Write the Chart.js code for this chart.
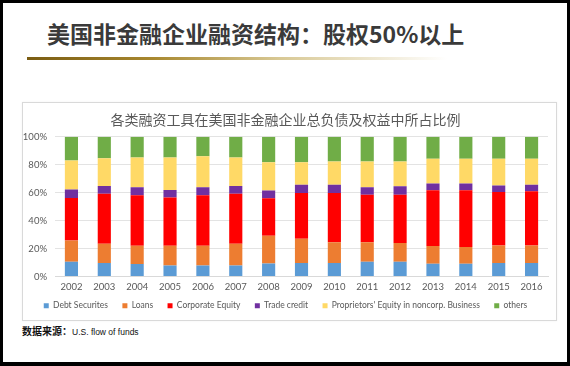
<!DOCTYPE html>
<html>
<head>
<meta charset="utf-8">
<script src="https://cdn.jsdelivr.net/npm/chart.js@4.4.0/dist/chart.umd.min.js"></script>
<style>
  html, body { margin: 0; padding: 0; background: #fff; }
  #frame { position: relative; width: 570px; height: 366px; box-sizing: border-box;
    border-left: 3px solid #000; border-top: 3px solid #000; border-right: 3px solid #000; border-bottom: 4px solid #000;
    background: #fff; overflow: hidden; }
  #title { position: absolute; left: 44px; top: 15px; font-family: "Noto Sans CJK SC", sans-serif; font-weight: bold;
    font-size: 23px; color: #3a3a3a; white-space: nowrap; letter-spacing: 0px; line-height: 30px; }
  #rule { position: absolute; left: 24px; top: 54px; width: 420px; height: 3px;
    background: linear-gradient(to right, #7a5c12 0%, #a8882f 30%, #d8c894 60%, rgba(255,255,255,0) 100%); }
  #box { position: absolute; left: 19px; top: 99px; width: 535px; height: 219px; box-sizing: border-box;
    border: 1px solid #d9d9d9; background: #fff; box-shadow: 0 0 2px rgba(0,0,0,0.06); }
  #box canvas { position: absolute; left: 0; top: 0; }
  #src { position: absolute; left: 19px; top: 318px; font-family: "Noto Sans CJK SC", sans-serif; color: #111; white-space: nowrap; line-height: 14px; }
  #src .cn { font-size: 10px; font-weight: bold; }
  #src .en { font-family: "Liberation Sans", sans-serif; font-size: 8.5px; }
</style>
</head>
<body>
<div id="frame">
  <div id="title">美国非金融企业融资结构：股权50%以上</div>
  <div id="rule"></div>
  <div id="box"><canvas id="c" width="533" height="217"></canvas></div>
  <div id="src"><span class="cn">数据来源：</span><span class="en">U.S. flow of funds</span></div>
</div>
<script>
const years = ["2002","2003","2004","2005","2006","2007","2008","2009","2010","2011","2012","2013","2014","2015","2016"];
const debtSecurities = [10.5, 9.6, 8.9, 7.9, 7.9, 7.9, 9.3, 9.6, 9.6, 10.5, 10.5, 9.1, 9.1, 9.6, 9.6];
const loans = [15.3, 13.8, 13.1, 14.1, 14.1, 15.5, 19.9, 17.4, 15.0, 14.1, 13.4, 12.7, 12.0, 12.6, 12.6];
const corporateEquity = [30.4, 35.9, 36.1, 34.5, 36.1, 35.9, 26.8, 32.8, 35.2, 34.0, 34.7, 39.9, 40.6, 38.3, 38.8];
const tradeCredit = [6.0, 5.5, 5.8, 5.5, 5.8, 5.5, 5.5, 5.8, 5.8, 5.3, 6.0, 4.8, 4.8, 4.6, 4.6];
const proprietorsEquity = [20.8, 19.9, 21.3, 23.2, 22.2, 20.4, 20.3, 16.2, 16.7, 18.4, 17.7, 17.7, 17.7, 19.1, 18.6];
const others = [17.0, 15.3, 14.8, 14.8, 13.9, 14.8, 18.2, 18.2, 17.7, 17.7, 17.7, 15.8, 15.8, 15.8, 15.8];
const yTicks = ["0%","10%","20%","30%","40%","50%","60%","70%","80%","90%","100%"];

const series = [
  ["Debt Securites", debtSecurities, "#5B9BD5"],
  ["Loans", loans, "#ED7D31"],
  ["Corporate Equity", corporateEquity, "#FF0000"],
  ["Trade credit", tradeCredit, "#7030A0"],
  ["Proprietors' Equity in noncorp. Business", proprietorsEquity, "#FFD966"],
  ["others", others, "#70AD47"]
];

const FONT = "Lato, 'Liberation Sans', sans-serif";
const defaultLabels = Chart.defaults.plugins.legend.labels.generateLabels;
new Chart(document.getElementById("c"), {
  type: "bar",
  data: {
    labels: years,
    datasets: series.map(s => ({
      label: s[0], data: s[1], backgroundColor: s[2], borderWidth: 0,
      barPercentage: 0.4, categoryPercentage: 1.0
    }))
  },
  options: {
    responsive: false, animation: false,
    layout: { padding: { left: 0, right: 8, top: 0, bottom: 0 } },
    plugins: {
      title: { display: true, text: "各类融资工具在美国非金融企业总负债及权益中所占比例",
        color: "#595959", font: { family: "'Noto Sans CJK SC', sans-serif", size: 14, weight: "normal" },
        padding: { top: 8, bottom: 9 } },
      legend: { position: "bottom",
        labels: { boxWidth: 5, boxHeight: 5, padding: 8, color: "#595959",
          font: { family: FONT, size: 8.5 },
          generateLabels: (chart) => {
            const items = defaultLabels(chart);
            items.forEach((it, i) => { if (i < items.length - 1) it.text = it.text + "\u2003"; });
            return items;
          } } },
      tooltip: { enabled: false }
    },
    scales: {
      x: { stacked: true,
        afterFit: (s) => { s.height = 17; },
        grid: { display: false, drawTicks: false },
        border: { display: true, color: "#d9d9d9" },
        ticks: { color: "#595959", font: { family: FONT, size: 9.5 }, padding: 4.5, maxRotation: 0 } },
      y: { stacked: true, min: 0, max: 100,
        afterFit: (s) => { s.width = 32; },
        grid: { color: "#e3e3e3", drawTicks: false },
        border: { display: false },
        ticks: { stepSize: 10, padding: 8, color: "#595959", font: { family: FONT, size: 9.5 },
          callback: (v) => yTicks[Math.round(v / 10)] } }
    }
  }
});
</script>
</body>
</html>
